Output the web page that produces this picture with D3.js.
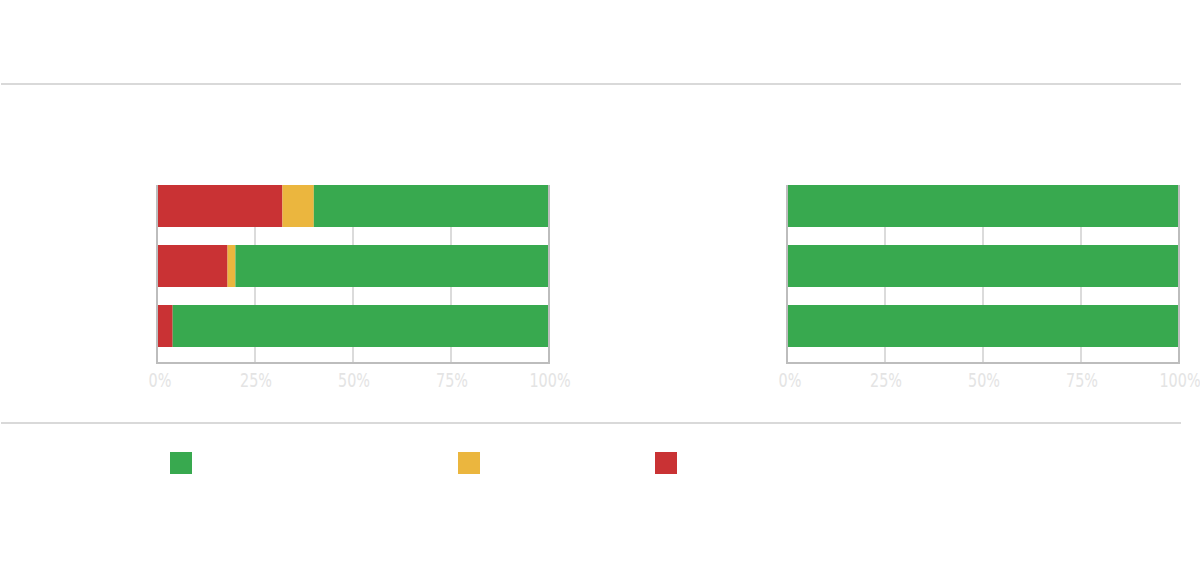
<!DOCTYPE html>
<html lang="en">
<head>
    <meta charset="UTF-8">
    <title>Stacked bars</title>
    <script src="https://cdnjs.cloudflare.com/ajax/libs/d3/7.8.5/d3.min.js"></script>
    <style>
        body {
            margin: 0;
            background-color: #ffffff;
        }
        svg {
            display: block;
        }
        .rule {
            stroke: #cccccc;
            stroke-width: 1.4px;
        }
        .grid line {
            stroke: #cfcfcf;
            stroke-width: 1.5px;
        }
        .frame {
            stroke: #bdbdbd;
            stroke-width: 2px;
            fill: none;
        }
        .tick-label {
            font-family: "DejaVu Sans", sans-serif;
            font-size: 20px;
            fill: #e4e4e4;
            text-anchor: middle;
        }
    </style>
</head>
<body>
    <div id="chart"></div>
    <script>
        const categories = ["Row 1", "Row 2", "Row 3"];
        const seriesKeys = ["red", "yellow", "green"];
        const legendKeys = ["green", "yellow", "red"];
        const ticks = [0, 25, 50, 75, 100];

        // left panel
        const leftRed = [32, 18, 4];
        const leftYellow = [8, 2, 0];
        const leftGreen = [60, 80, 96];

        // right panel
        const rightRed = [0, 0, 0];
        const rightYellow = [0, 0, 0];
        const rightGreen = [100, 100, 100];

        const colors = {green: "#38a94f", yellow: "#ebb63e", red: "#c93234"};

        const width = 1200;
        const height = 576;

        const svg = d3.select("#chart")
            .append("svg")
            .attr("width", width)
            .attr("height", height);

        // horizontal rules above and below the charts
        svg.append("line").attr("class", "rule")
            .attr("x1", 1).attr("x2", 1181).attr("y1", 84).attr("y2", 84);
        svg.append("line").attr("class", "rule")
            .attr("x1", 1).attr("x2", 1181).attr("y1", 423).attr("y2", 423);

        const plotTop = 185;
        const plotBottom = 363;
        const plotWidth = 392;

        const y = d3.scaleBand()
            .domain(categories)
            .range([plotTop, plotTop + 180]);
        const barHeight = 42;

        function buildRows(red, yellow, green) {
            return categories.map((c, i) => ({
                cat: c, red: red[i], yellow: yellow[i], green: green[i]
            }));
        }

        function drawPanel(left, rows) {
            const x = d3.scaleLinear().domain([0, 100]).range([left, left + plotWidth]);
            const g = svg.append("g");

            // vertical gridlines
            g.append("g").attr("class", "grid")
                .selectAll("line")
                .data(ticks.slice(1, -1))
                .enter().append("line")
                .attr("x1", d => x(d)).attr("x2", d => x(d))
                .attr("y1", plotTop).attr("y2", plotBottom);

            const stack = d3.stack().keys(seriesKeys)(rows);

            g.selectAll(".layer")
                .data(stack)
                .enter().append("g")
                .attr("class", "layer")
                .attr("fill", d => colors[d.key])
                .selectAll("rect")
                .data(d => d)
                .enter().append("rect")
                .attr("x", d => x(d[0]))
                .attr("width", d => x(d[1]) - x(d[0]))
                .attr("y", d => y(d.data.cat))
                .attr("height", barHeight);

            // axis frame: left, bottom, right
            g.append("path").attr("class", "frame")
                .attr("d", `M${x(0)},${plotTop}V${plotBottom}H${x(100)}V${plotTop}`);

            // condensed-looking tick labels (squeezed horizontally)
            g.selectAll(".tick-label")
                .data(ticks)
                .enter().append("text")
                .attr("class", "tick-label")
                .attr("transform", d => `translate(${x(d) + (d === 0 ? 3 : 1)},387) scale(0.72,1)`)
                .text(d => d + "%");
        }

        drawPanel(157, buildRows(leftRed, leftYellow, leftGreen));
        drawPanel(787, buildRows(rightRed, rightYellow, rightGreen));

        // legend swatches
        const legendX = d3.scaleOrdinal().domain(legendKeys).range([170, 458, 655]);
        svg.append("g").selectAll("rect")
            .data(legendKeys)
            .enter().append("rect")
            .attr("x", d => legendX(d))
            .attr("y", 452)
            .attr("width", 22)
            .attr("height", 22)
            .attr("fill", d => colors[d]);
    </script>
</body>
</html>
